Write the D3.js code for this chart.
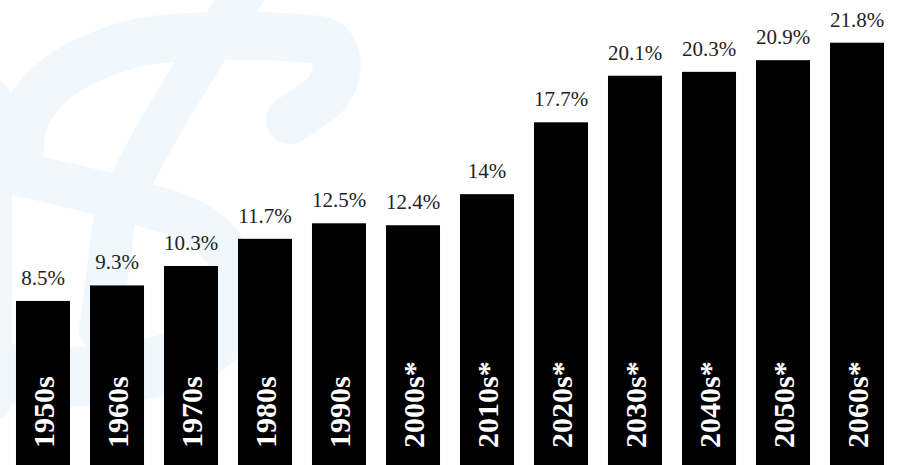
<!DOCTYPE html>
<html>
<head>
<meta charset="utf-8">
<script src="https://cdn.jsdelivr.net/npm/d3@7"></script>
<style>
  html, body { margin: 0; padding: 0; background: #fff; }
  svg { display: block; }
  text { font-family: "Liberation Serif", "Times New Roman", Times, serif; }
</style>
</head>
<body>
<div id="chart"></div>
<script>
// decades and share values (%)
var decades = ["1950s", "1960s", "1970s", "1980s", "1990s", "2000s*", "2010s*", "2020s*", "2030s*", "2040s*", "2050s*", "2060s*"];
var shares = [8.5, 9.3, 10.3, 11.7, 12.5, 12.4, 14, 17.7, 20.1, 20.3, 20.9, 21.8];
var shareLabels = ["8.5%", "9.3%", "10.3%", "11.7%", "12.5%", "12.4%", "14%", "17.7%", "20.1%", "20.3%", "20.9%", "21.8%"];

var width = 898, height = 465;

var data = decades.map(function(d, i) {
  return {decade: d, value: shares[i], label: shareLabels[i]};
});

var svg = d3.select("#chart")
  .append("svg")
  .attr("width", width)
  .attr("height", height);

// faint watermark in the background
var wm = svg.append("g")
  .attr("fill", "none")
  .attr("stroke", "#f0f8fe")
  .attr("stroke-linecap", "round")
  .attr("stroke-linejoin", "round");
wm.append("path")
  .attr("d", "M20,150 C18,100 60,62 140,42 C200,32 285,36 320,40 C342,44 342,80 322,98 L290,120")
  .attr("stroke-width", 48);
wm.append("path")
  .attr("d", "M246,-10 C200,60 145,145 115,215 L100,330")
  .attr("stroke-width", 42);
wm.append("path")
  .attr("d", "M-10,168 C40,178 100,192 170,212 C230,232 250,280 230,320")
  .attr("stroke-width", 44);
wm.append("path")
  .attr("d", "M230,320 C200,372 100,385 -10,372")
  .attr("stroke-width", 60);
wm.append("path")
  .attr("d", "M-8,100 L-8,400")
  .attr("stroke-width", 40);

var x = d3.scaleBand()
  .domain(decades)
  .range([6, 894])
  .paddingInner(0.27)
  .paddingOuter(0.135);

var y = d3.scaleLinear()
  .domain([0, 24])
  .range([466, 0]);

// bars
svg.selectAll("rect.bar")
  .data(data)
  .enter()
  .append("rect")
  .attr("class", "bar")
  .attr("x", function(d) { return x(d.decade); })
  .attr("y", function(d) { return y(d.value); })
  .attr("width", x.bandwidth())
  .attr("height", function(d) { return y(0) - y(d.value); })
  .attr("fill", "#000");

// value labels above bars
svg.selectAll("text.val")
  .data(data)
  .enter()
  .append("text")
  .attr("class", "val")
  .attr("x", function(d) { return x(d.decade) + x.bandwidth() / 2; })
  .attr("y", function(d) { return y(d.value) - 16; })
  .attr("text-anchor", "middle")
  .attr("font-size", 21)
  .attr("fill", "#222")
  .text(function(d) { return d.label; });

// decade labels, rotated inside bars
svg.selectAll("text.cat")
  .data(data)
  .enter()
  .append("text")
  .attr("class", "cat")
  .attr("transform", function(d) {
    return "translate(" + (x(d.decade) + x.bandwidth() / 2) + ",448) rotate(-90)";
  })
  .attr("dy", "0.36em")
  .attr("text-anchor", "start")
  .attr("font-weight", "bold")
  .attr("font-size", 30)
  .attr("fill", "#fff")
  .text(function(d) { return d.decade; });
</script>
</body>
</html>
